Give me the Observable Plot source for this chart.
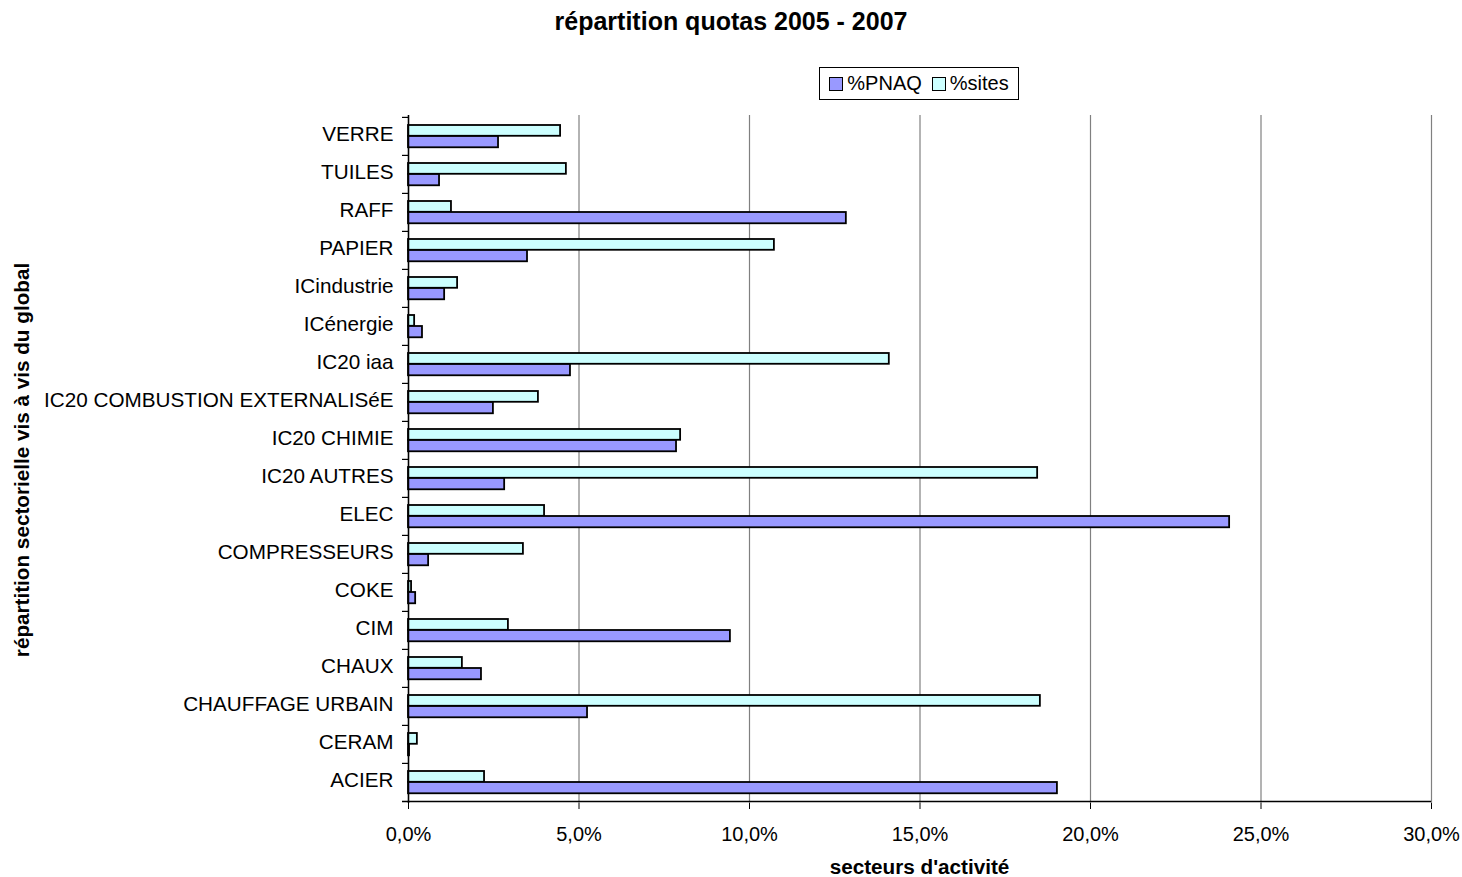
<!DOCTYPE html>
<html>
<head>
<meta charset="utf-8">
<script src="https://cdn.jsdelivr.net/npm/d3@7"></script>
<script src="https://cdn.jsdelivr.net/npm/@observablehq/plot@0.6"></script>
<style>
  html, body { margin: 0; padding: 0; background: #fff; }
  body { font-family: "Liberation Sans", Arial, sans-serif; }
  #wrap { position: relative; width: 1462px; height: 877px; }
  #title { position: absolute; left: 0; width: 1462px; top: 7px; text-align: center; font-weight: bold; font-size: 25px; }
  #legend { position: absolute; left: 819px; top: 67px; width: 198px; height: 31px; border: 1px solid #000; box-sizing: content-box; display: flex; align-items: center; justify-content: center; gap: 10px; font-size: 20px; }
  .sw { display: inline-block; width: 12px; height: 12px; border: 1.5px solid #000; margin-right: 4px; vertical-align: middle; position: relative; top: -1px; }
  #ylab { position: absolute; left: 22px; top: 460px; transform: translate(-50%, -50%) rotate(-90deg); white-space: nowrap; font-weight: bold; font-size: 20.7px; }
  #xlab { position: absolute; left: 408px; width: 1023px; top: 855px; text-align: center; font-weight: bold; font-size: 20.7px; }
  svg { position: absolute; left: 0; top: 0; }
</style>
</head>
<body>
<div id="wrap">
  <div id="chart"></div>
  <div id="title">répartition quotas 2005 - 2007</div>
  <div id="legend"><span><span class="sw" style="background:#9999FF"></span>%PNAQ</span><span><span class="sw" style="background:#CCFFFF"></span>%sites</span></div>
  <div id="ylab">répartition sectorielle vis à vis du global</div>
  <div id="xlab">secteurs d'activité</div>
</div>
<script>
const categories = ["VERRE","TUILES","RAFF","PAPIER","ICindustrie","ICénergie","IC20 iaa","IC20 COMBUSTION EXTERNALISéE","IC20 CHIMIE","IC20 AUTRES","ELEC","COMPRESSEURS","COKE","CIM","CHAUX","CHAUFFAGE URBAIN","CERAM","ACIER"];
const pnaq  = [2.64, 0.91, 12.84, 3.49, 1.06, 0.41, 4.75, 2.49, 7.86, 2.82, 24.08, 0.59, 0.21, 9.44, 2.14, 5.25, 0.03, 19.03];
const sites = [4.46, 4.63, 1.26, 10.73, 1.44, 0.18, 14.10, 3.81, 7.98, 18.45, 3.99, 3.37, 0.09, 2.93, 1.58, 18.53, 0.26, 2.23];
const xTicks = [0, 5, 10, 15, 20, 25, 30];

const dataP = categories.map((c, i) => ({cat: c, v: pnaq[i]}));
const dataS = categories.map((c, i) => ({cat: c, v: sites[i]}));

const W = 1462, H = 877, mL = 408, mR = 31, mT = 115, mB = 74;
const bw = (H - mT - mB) / categories.length;
const tickLen = 6 * 30 / (W - mL - mR);

const chart = Plot.plot({
  width: W, height: H,
  marginLeft: mL, marginRight: mR, marginTop: mT, marginBottom: mB,
  style: {fontFamily: "'Liberation Sans', Arial, sans-serif", fontSize: "20px", color: "#000", background: "transparent"},
  x: {domain: [0, 30], ticks: xTicks, label: null},
  y: {domain: categories, padding: 0, label: null},
  marks: [
    Plot.gridX(xTicks, {stroke: "#808080", strokeOpacity: 1, strokeWidth: 1.2}),
    Plot.barX(dataS, {x: "v", y: "cat", fill: "#CCFFFF", stroke: "#000", strokeWidth: 1.8, insetTop: 8, insetBottom: bw - 19}),
    Plot.barX(dataP, {x: "v", y: "cat", fill: "#9999FF", stroke: "#000", strokeWidth: 1.8, insetTop: 19, insetBottom: bw - 30.5}),
    Plot.ruleX([0], {stroke: "#000", strokeWidth: 1.5}),
    Plot.ruleY(categories, {y: d => d, x1: -tickLen, x2: 0, dy: -bw / 2, stroke: "#000", strokeWidth: 1.2}),
    Plot.ruleY(["ACIER"], {y: d => d, x1: -tickLen, x2: 30, dy: bw / 2, stroke: "#000", strokeWidth: 1.5}),
    Plot.axisX(xTicks, {tickSize: 6, tickPadding: 17, stroke: "#000", tickFormat: d => d.toFixed(1).replace(".", ",") + "%", fontSize: 20, label: null}),
    Plot.axisY({tickSize: 0, tickPadding: 15, fontSize: 20.7, dy: -2, label: null})
  ]
});
document.getElementById("chart").appendChild(chart);
</script>
</body>
</html>
